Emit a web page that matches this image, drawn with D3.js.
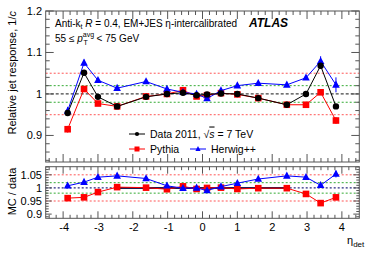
<!DOCTYPE html>
<html><head><meta charset="utf-8">
<script src="https://cdn.jsdelivr.net/npm/d3@7"></script>
<style>
body{margin:0;background:#fff;}
svg{display:block;font-family:"Liberation Sans",Arial,Helvetica,sans-serif;}
</style></head>
<body><svg id="c" width="374" height="253"></svg>
<script>
// ---- data ----
const eta = [-3.87,-3.4,-3.0,-2.45,-1.62,-1.02,-0.56,-0.17,0.13,0.53,1.0,1.6,2.42,2.97,3.39,3.83];
const dataResp   = [0.954,1.051,0.993,0.970,0.993,1.000,1.003,0.997,0.999,1.001,1.000,0.990,0.974,1.000,1.068,0.970];
const pythiaResp = [0.915,1.012,0.977,0.970,0.994,1.000,1.009,0.994,0.997,1.002,0.999,0.990,0.974,0.974,1.004,0.936];
const herwigResp = [0.959,1.075,1.033,1.014,1.030,1.012,1.004,1.000,0.989,1.008,1.020,1.026,1.022,1.039,1.079,1.022];
const dataErr    = [0.004,0.005,0.003,0.002,0.002,0.002,0.002,0.002,0.002,0.002,0.002,0.002,0.002,0.003,0.006,0.005];
const pythiaErr  = [0.008,0.004,0.003,0.002,0.002,0.002,0.002,0.002,0.002,0.002,0.002,0.002,0.002,0.003,0.004,0.008];
const herwigErr  = [0.010,0.008,0.004,0.003,0.003,0.003,0.003,0.003,0.003,0.003,0.003,0.003,0.003,0.005,0.012,0.018];
const pythiaRatio = [0.961,0.964,0.984,1.003,1.001,0.995,1.006,0.996,1.000,1.001,0.996,0.999,0.999,0.977,0.942,0.964];
const herwigRatio = [1.008,1.022,1.041,1.046,1.036,1.008,0.999,1.000,0.990,1.005,1.018,1.034,1.046,1.041,1.010,1.053];
const pythiaRatioErr = [0.004,0.003,0.002,0.002,0.002,0.002,0.002,0.002,0.002,0.002,0.002,0.002,0.002,0.002,0.003,0.004];
const herwigRatioErr = [0.010,0.004,0.003,0.003,0.003,0.003,0.003,0.003,0.003,0.003,0.003,0.003,0.003,0.004,0.008,0.013];
const xTicks = [-4,-3,-2,-1,0,1,2,3,4];
const yTopTicks = [0.9,1.0,1.1,1.2];
const yTopLabels = ["0.9","1","1.1","1.2"];
const yBotTicks = [0.9,0.95,1.0,1.05];
const yBotLabels = ["0.9","0.95","1","1.05"];
const refLines = [{v:1.05,c:"#ff5555"},{v:0.95,c:"#ff5555"},{v:1.02,c:"#33aa33"},{v:0.98,c:"#33aa33"}];

const svg = d3.select("#c");
const L=45.7, R=359.3;
const x = d3.scaleLinear([-4.5,4.5],[L,R]);
const yT = d3.scaleLinear([0.836,1.2],[162,11]);
const yB = d3.scaleLinear([0.884,1.081],[218.3,166.7]);

function refs(y, midColor, midDash){
  refLines.forEach(r=>{
    svg.append("line").attr("x1",L).attr("x2",R).attr("y1",y(r.v)).attr("y2",y(r.v))
      .attr("stroke",r.c).attr("stroke-width",1).attr("stroke-dasharray","2,2");
  });
  svg.append("line").attr("x1",L).attr("x2",R).attr("y1",y(1)).attr("y2",y(1))
    .attr("stroke",midColor).attr("stroke-width",1.2).attr("stroke-dasharray",midDash);
}
refs(yT,"#444","3,2");
refs(yB,"#2a2a80","2,2");
// data band in ratio
svg.append("line").attr("x1",x(-2.45)).attr("x2",x(2.42)).attr("y1",yB(1)).attr("y2",yB(1))
  .attr("stroke","#1c1c50").attr("stroke-width",2);

function frame(y, majorY, minorStepY, majLen, minLen, xMaj, xMin){
  const [y0,y1]=y.range();
  const g=svg.append("g").attr("stroke","#555").attr("stroke-width",1).attr("fill","none");
  g.append("rect").attr("x",L).attr("y",y1).attr("width",R-L).attr("height",y0-y1);
  const d=y.domain();
  for(let v=Math.ceil(d[0]/minorStepY-1e-6)*minorStepY; v<=d[1]+1e-9; v+=minorStepY){
    const isMaj = majorY.some(m=>Math.abs(m-v)<1e-6);
    const len = isMaj?majLen:minLen;
    g.append("line").attr("x1",L).attr("x2",L+len).attr("y1",y(v)).attr("y2",y(v));
    g.append("line").attr("x1",R).attr("x2",R-len).attr("y1",y(v)).attr("y2",y(v));
  }
  for(let v=-4.4; v<=4.41; v+=0.2){
    const isMaj = Math.abs(v-Math.round(v))<1e-6;
    const len = isMaj?xMaj:xMin;
    g.append("line").attr("x1",x(v)).attr("x2",x(v)).attr("y1",y0).attr("y2",y0-len);
    g.append("line").attr("x1",x(v)).attr("x2",x(v)).attr("y1",y1).attr("y2",y1+len);
  }
}
frame(yT,yTopTicks,0.02,8,4,8,4);
frame(yB,yBotTicks,0.01,6,3,7,3.5);

// tick labels
svg.append("g").selectAll("text").data(yTopTicks).join("text")
  .attr("x",42).attr("y",d=>yT(d)+4).attr("text-anchor","end").attr("font-size",11)
  .text((d,i)=>yTopLabels[i]);
svg.append("g").selectAll("text").data(yBotTicks).join("text")
  .attr("x",42).attr("y",d=>yB(d)+4).attr("text-anchor","end").attr("font-size",11)
  .text((d,i)=>yBotLabels[i]);
svg.append("g").selectAll("text").data(xTicks).join("text")
  .attr("x",d=>x(d)+(d<0?1:0)).attr("y",231).attr("text-anchor","middle").attr("font-size",11)
  .text(d=>d<0?"-"+(-d):d);

function marker(shape){
  if(shape==="circle") return d3.symbol(d3.symbolCircle,32)();
  if(shape==="square") return "M-3.3,-3.3H3.3V3.3H-3.3Z";
  return "M0,-4.3L3.8,2.8L-3.8,2.8Z";
}
function series(y, vals, errs, color, shape){
  const pts = eta.map((e,i)=>({e,v:vals[i],err:errs[i]}));
  const line=d3.line().x(d=>x(d.e)).y(d=>y(d.v));
  svg.append("path").attr("d",line(pts)).attr("fill","none").attr("stroke",color).attr("stroke-width",1);
  const g=svg.append("g");
  g.selectAll("line").data(pts).join("line")
    .attr("x1",d=>x(d.e)).attr("x2",d=>x(d.e)).attr("y1",d=>y(d.v-d.err)).attr("y2",d=>y(d.v+d.err))
    .attr("stroke",color).attr("stroke-width",1);
  g.selectAll("path").data(pts).join("path")
    .attr("transform",d=>`translate(${x(d.e)},${y(d.v)})`).attr("fill",color)
    .attr("d",marker(shape));
}
series(yT, pythiaResp, pythiaErr, "#ff0000","square");
series(yT, herwigResp, herwigErr, "#0000ff","triangle");
series(yT, dataResp, dataErr, "#000000","circle");
series(yB, pythiaRatio, pythiaRatioErr, "#ff0000","square");
series(yB, herwigRatio, herwigRatioErr, "#0000ff","triangle");

// annotations
const t1=svg.append("text").attr("x",55).attr("y",27).attr("font-size",10);
t1.append("tspan").text("Anti-k");
t1.append("tspan").attr("font-size",7).attr("dy",2).text("t");
t1.append("tspan").attr("dy",-2).text(" ");
t1.append("tspan").attr("font-style","italic").text("R");
t1.append("tspan").text(" = 0.4, EM+JES η-intercalibrated");
svg.append("text").attr("x",249).attr("y",27).attr("font-size",12).attr("font-weight","bold")
  .attr("font-style","italic").text("ATLAS");
const t2=svg.append("text").attr("x",55).attr("y",42).attr("font-size",10);
t2.append("tspan").text("55 ≤ ");
t2.append("tspan").attr("font-style","italic").text("p");
t2.append("tspan").attr("font-size",7).attr("dy",-5).text("avg");
t2.append("tspan").attr("font-size",7).attr("dx",-10.5).attr("dy",8).text("T");
t2.append("tspan").attr("dy",-3).attr("dx",6).text(" < 75 GeV");

// legend
function legItem(x0,yy,color,shape){
  svg.append("line").attr("x1",x0).attr("x2",x0+16).attr("y1",yy).attr("y2",yy).attr("stroke",color);
  svg.append("path").attr("transform",`translate(${x0+8},${yy})`).attr("fill",color)
    .attr("d",shape==="circle"?d3.symbol(d3.symbolCircle,14)():shape==="square"?"M-2.5,-2.5H2.5V2.5H-2.5Z":"M0,-3L2.6,2L-2.6,2Z");
  return svg.append("text").attr("x",x0+21).attr("y",yy+3.5).attr("font-size",10.5);
}
const lt=legItem(129,134,"#000","circle");
lt.append("tspan").text("Data 2011, √");
lt.append("tspan").attr("font-style","italic").attr("text-decoration","overline").text("s");
lt.append("tspan").text(" = 7 TeV");
legItem(129,149,"#ff0000","square").text("Pythia");
legItem(190,149,"#0000ff","triangle").text("Herwig++");

// axis titles
const yt=svg.append("text").attr("transform","translate(16,11) rotate(-90)").attr("text-anchor","end").attr("font-size",11);
yt.append("tspan").text("Relative jet response, 1/");
yt.append("tspan").attr("font-style","italic").text("c");
svg.append("text").attr("transform","translate(16,191.5) rotate(-90)").attr("text-anchor","middle").attr("font-size",11).text("MC / data");
const xt=svg.append("text").attr("x",347).attr("y",244).attr("font-size",11);
xt.append("tspan").text("η");
xt.append("tspan").attr("font-size",8).attr("dy",3).text("det");
</script></body></html>
